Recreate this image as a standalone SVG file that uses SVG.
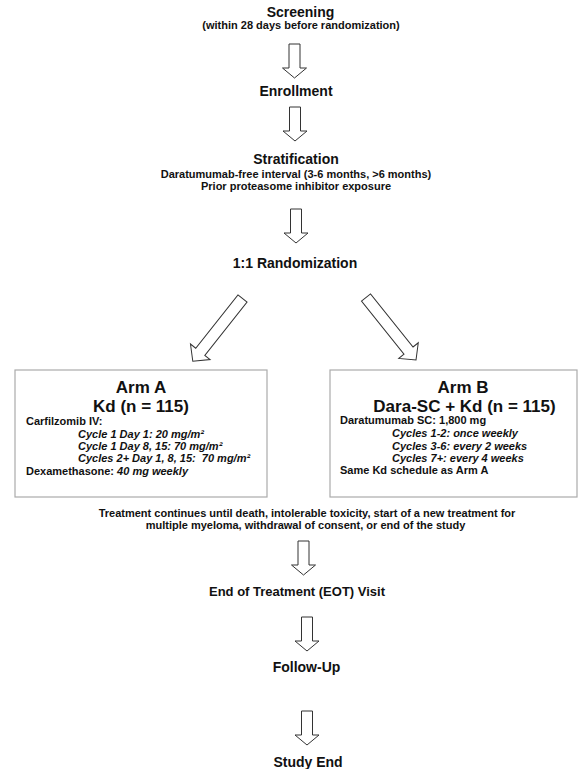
<svg xmlns="http://www.w3.org/2000/svg" width="588" height="769" viewBox="0 0 588 769">
  <style>
    text { font-family: "Liberation Sans", Arial, sans-serif; font-weight: bold; fill: #111; white-space: pre; }
    .h14 { font-size: 14px; text-anchor: middle; }
    .h13 { font-size: 13px; text-anchor: middle; }
    .h17 { font-size: 17px; text-anchor: middle; }
    .t11 { font-size: 11px; }
    .mid { text-anchor: middle; }
    .it { font-style: italic; }
    .box { fill: #fff; stroke: #ababab; stroke-width: 1.2; }
    .blk { fill: #fff; stroke: #333; stroke-width: 1; stroke-linejoin: miter; }
  </style>
  <defs>
    <!-- hollow block arrow pointing down, tail at origin -->
    <path id="downArrow" d="M-5.5,0 H5.5 V24 H12 L0,34 L-12,24 H-5.5 Z"/>
    <path id="diagArrow" d="M-5.8,0 H5.8 V68 H12.5 L0,80 L-12.5,68 H-5.8 Z"/>
  </defs>

  <g id="screening">
    <text class="h14" x="300.5" y="17">Screening</text>
    <text class="t11 mid" x="301" y="28.5">(within 28 days before randomization)</text>
  </g>

  <g id="enrollment">
    <text class="h14" x="296" y="96">Enrollment</text>
  </g>

  <g id="stratification">
    <text class="h14" x="296" y="164">Stratification</text>
    <text class="t11 mid" x="296" y="177.5">Daratumumab-free interval (3-6 months, &gt;6 months)</text>
    <text class="t11 mid" x="296" y="190">Prior proteasome inhibitor exposure</text>
  </g>

  <g id="randomization">
    <text class="h14" x="295" y="268">1:1 Randomization</text>
  </g>

  <g id="armA">
    <rect class="box" x="15" y="370" width="252" height="127"/>
    <text class="h17" x="141" y="392.5">Arm A</text>
    <text class="h17" x="141" y="411.5">Kd (n = 115)</text>
    <text class="t11" x="26" y="424.5">Carfilzomib IV:</text>
    <text class="t11 it" x="78" y="437.5">Cycle 1 Day 1: 20 mg/m²</text>
    <text class="t11 it" x="78" y="449.5">Cycle 1 Day 8, 15: 70 mg/m²</text>
    <text class="t11 it" x="78" y="462">Cycles 2+ Day 1, 8, 15:  70 mg/m²</text>
    <text class="t11" x="26" y="475">Dexamethasone: <tspan class="it">40 mg weekly</tspan></text>
  </g>

  <g id="armB">
    <rect class="box" x="330" y="370" width="247" height="127"/>
    <text class="h17" x="463" y="392.5">Arm B</text>
    <text class="h17" x="464.5" y="411.5">Dara-SC + Kd (n = 115)</text>
    <text class="t11" x="340" y="424">Daratumumab SC: 1,800 mg</text>
    <text class="t11 it" x="392" y="437">Cycles 1-2: once weekly</text>
    <text class="t11 it" x="392" y="449.5">Cycles 3-6: every 2 weeks</text>
    <text class="t11 it" x="392" y="461.5">Cycles 7+: every 4 weeks</text>
    <text class="t11" x="340" y="474">Same Kd schedule as Arm A</text>
  </g>

  <g id="treatment">
    <text class="t11 mid" x="307" y="516.5">Treatment continues until death, intolerable toxicity, start of a new treatment for</text>
    <text class="t11 mid" x="305.5" y="528.5">multiple myeloma, withdrawal of consent, or end of the study</text>
  </g>

  <g id="eot">
    <text class="h13" x="297" y="595.5">End of Treatment (EOT) Visit</text>
  </g>

  <g id="followup">
    <text class="h14" x="306.5" y="671.5">Follow-Up</text>
  </g>

  <g id="studyEnd">
    <text class="h14" x="308" y="767">Study End</text>
  </g>

  <g id="connectors">
    <use href="#downArrow" class="blk" transform="translate(294.5,44)"/>
    <use href="#downArrow" class="blk" transform="translate(295,107)"/>
    <use href="#downArrow" class="blk" transform="translate(296,209)"/>
    <use href="#diagArrow" class="blk" transform="translate(242.5,298.5) rotate(38.4)"/>
    <use href="#diagArrow" class="blk" transform="translate(366,297.5) rotate(-38.7)"/>
    <use href="#downArrow" class="blk" transform="translate(303.5,541)"/>
    <use href="#downArrow" class="blk" transform="translate(307,617)"/>
    <use href="#downArrow" class="blk" transform="translate(307,711)"/>
  </g>
</svg>
